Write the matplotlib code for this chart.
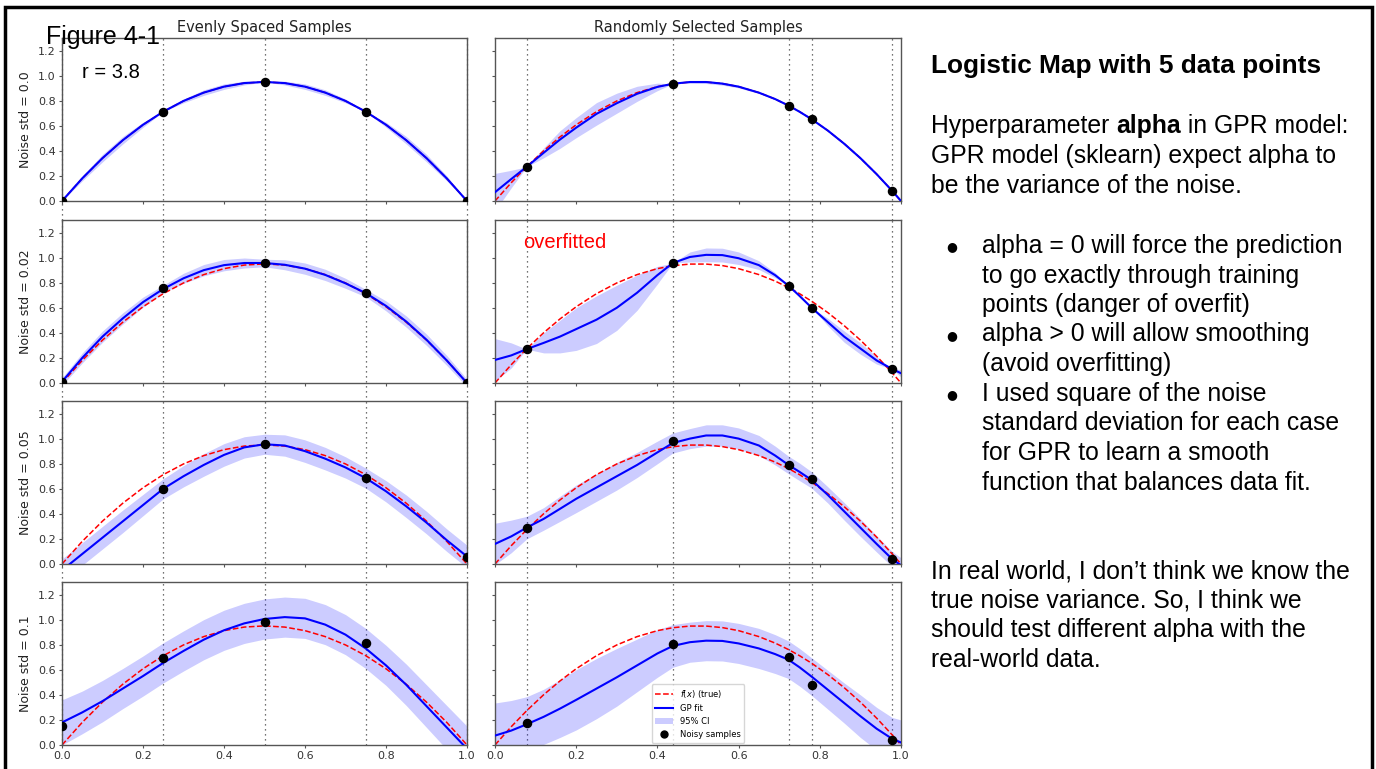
import matplotlib
matplotlib.use('Agg')
import matplotlib.pyplot as plt
import numpy as np
from matplotlib.lines import Line2D
from matplotlib.patches import Patch, Rectangle

# ---- data ----
x_even = [0.0, 0.05, 0.1, 0.15, 0.2, 0.25, 0.3, 0.35, 0.4, 0.45, 0.5,
          0.55, 0.6, 0.65, 0.7, 0.75, 0.8, 0.85, 0.9, 0.95, 1.0]
x_rand = [0.0, 0.04, 0.078, 0.12, 0.16, 0.2, 0.25, 0.3, 0.35, 0.4, 0.438, 0.48, 0.52,
          0.56, 0.6, 0.65, 0.69, 0.723, 0.75, 0.78, 0.82, 0.86, 0.9, 0.94, 0.978, 1.0]

true_even = [0.0, 0.1805, 0.342, 0.4845, 0.608, 0.7125, 0.798, 0.8645, 0.912, 0.9405, 0.95,
             0.9405, 0.912, 0.8645, 0.798, 0.7125, 0.608, 0.4845, 0.342, 0.1805, 0.0]
true_rand = [0.0, 0.1459, 0.2733, 0.4013, 0.5107, 0.608, 0.7125, 0.798, 0.8645, 0.912, 0.9354,
             0.9485, 0.9485, 0.9363, 0.912, 0.8645, 0.8128, 0.761, 0.7125, 0.6521, 0.5609,
             0.4575, 0.342, 0.2143, 0.0818, 0.0]

sx_even = [0.0, 0.25, 0.5, 0.75, 1.0]
sx_rand = [0.078, 0.438, 0.723, 0.78, 0.978]
noise_labels = ['0.0', '0.02', '0.05', '0.1']

# evenly spaced samples
sy_even_0 = [0.0, 0.7125, 0.95, 0.7125, 0.0]
mean_even_0 = true_even
ci_even_0 = [0, .02, .03, .03, .02, 0, .015, .022, .022, .015, 0,
             .015, .022, .022, .015, 0, .02, .03, .03, .02, 0]

sy_even_1 = [0.01, 0.754, 0.957, 0.717, 0.0]
mean_even_1 = [0.01, 0.2, 0.37, 0.515, 0.645, 0.75, 0.835, 0.9, 0.94, 0.957, 0.957,
               0.943, 0.912, 0.862, 0.795, 0.717, 0.615, 0.49, 0.345, 0.18, 0.0]
ci_even_1 = [.03, .04, .045, .045, .04, .03, .04, .045, .045, .04, .03,
             .04, .045, .045, .04, .03, .04, .045, .045, .04, .03]

sy_even_2 = [-0.06, 0.598, 0.958, 0.686, 0.058]
mean_even_2 = [-0.05, 0.08, 0.21, 0.34, 0.47, 0.6, 0.70, 0.79, 0.87, 0.93, 0.955,
               0.945, 0.90, 0.84, 0.77, 0.685, 0.58, 0.46, 0.33, 0.19, 0.06]
ci_even_2 = [.09, .09, .09, .09, .085, .08, .085, .09, .09, .085, .08,
             .085, .09, .09, .085, .08, .085, .09, .09, .09, .09]

sy_even_3 = [0.155, 0.69, 0.979, 0.813, -0.08]
mean_even_3 = [0.18, 0.26, 0.35, 0.45, 0.55, 0.655, 0.75, 0.84, 0.915, 0.97, 1.005,
               1.02, 1.01, 0.96, 0.88, 0.77, 0.635, 0.48, 0.31, 0.14, -0.03]
ci_even_3 = [.18, .17, .165, .16, .16, .16, .16, .16, .16, .16, .16,
             .16, .16, .16, .16, .16, .16, .165, .17, .175, .18]

# randomly selected samples
sy_rand_0 = [0.2733, 0.9354, 0.761, 0.6521, 0.0818]
mean_rand_0 = [0.07, 0.175, 0.273, 0.385, 0.49, 0.585, 0.695, 0.78, 0.855, 0.91, 0.935,
               0.949, 0.949, 0.936, 0.912, 0.864, 0.813, 0.761, 0.712, 0.652, 0.561,
               0.457, 0.342, 0.214, 0.082, 0.0]
ci_rand_0 = [.15, .07, 0, .04, .07, .08, .09, .08, .06, .03, 0, .01, .012,
             .012, .01, .006, .003, 0, .002, 0, .004, .006, .006, .004, 0, .01]

sy_rand_1 = [0.27, 0.957, 0.776, 0.60, 0.112]
mean_rand_1 = [0.184, 0.22, 0.27, 0.32, 0.37, 0.43, 0.505, 0.60, 0.72, 0.86, 0.957,
               1.005, 1.022, 1.02, 0.995, 0.94, 0.86, 0.776, 0.695, 0.60, 0.485,
               0.37, 0.275, 0.18, 0.112, 0.078]
ci_rand_1 = [.17, .1, 0, .08, .13, .17, .19, .18, .14, .07, 0, .04, .055,
             .055, .05, .035, .02, 0, .01, 0, .03, .045, .045, .03, 0, .03]

sy_rand_2 = [0.29, 0.979, 0.787, 0.677, 0.037]
mean_rand_2 = [0.16, 0.22, 0.29, 0.36, 0.44, 0.52, 0.61, 0.70, 0.79, 0.89, 0.965,
               1.0, 1.025, 1.025, 1.0, 0.945, 0.865, 0.79, 0.735, 0.67, 0.55,
               0.42, 0.29, 0.16, 0.04, -0.01]
ci_rand_2 = [.165, .13, .09, .09, .1, .11, .11, .11, .1, .09, .08, .08, .085,
             .085, .085, .08, .075, .07, .07, .065, .065, .07, .07, .065, .06, .06]

sy_rand_3 = [0.173, 0.808, 0.699, 0.477, 0.04]
mean_rand_3 = [0.075, 0.115, 0.165, 0.225, 0.29, 0.36, 0.45, 0.54, 0.635, 0.73, 0.79,
               0.82, 0.832, 0.83, 0.81, 0.77, 0.725, 0.68, 0.62, 0.545, 0.44,
               0.335, 0.23, 0.13, 0.05, 0.02]
ci_rand_3 = [.26, .24, .22, .22, .23, .24, .24, .23, .21, .19, .17, .16, .16,
             .16, .16, .16, .155, .15, .15, .15, .155, .16, .17, .17, .17, .18]

even_panels = [(sy_even_0, mean_even_0, ci_even_0), (sy_even_1, mean_even_1, ci_even_1),
               (sy_even_2, mean_even_2, ci_even_2), (sy_even_3, mean_even_3, ci_even_3)]
rand_panels = [(sy_rand_0, mean_rand_0, ci_rand_0), (sy_rand_1, mean_rand_1, ci_rand_1),
               (sy_rand_2, mean_rand_2, ci_rand_2), (sy_rand_3, mean_rand_3, ci_rand_3)]

W, H = 1376, 769
fig = plt.figure(figsize=(W / 100, H / 100), dpi=100)

col_left = [62, 495]
col_w = [405, 406]
row_bottom = [201, 383, 564, 745]
ax_h = 163
gap = 19

spine_col = '#555555'
tick_col = '#333333'

def draw_panel(ax, xg, truth, sx, sy, mean, ci):
    xg = np.array(xg)
    mean = np.array(mean)
    ci = np.array(ci)
    ax.fill_between(xg, mean - ci, mean + ci, color='blue', alpha=0.2, lw=0, zorder=1)
    ax.plot(xg, truth, color='red', ls='--', lw=1.1, zorder=2)
    ax.plot(xg, mean, color='blue', lw=1.5, zorder=3)
    ax.scatter(sx, sy, s=34, color='black', zorder=4)

axes = []
for r in range(4):
    for c in range(2):
        left = col_left[c] / W
        bottom = 1 - row_bottom[r] / H
        ax = fig.add_axes([left, bottom, col_w[c] / W, ax_h / H])
        ax.set_xlim(0, 1)
        ax.set_ylim(0, 1.3)
        ax.set_xticks([0, 0.2, 0.4, 0.6, 0.8, 1.0])
        ax.set_yticks([0, 0.2, 0.4, 0.6, 0.8, 1.0, 1.2])
        ax.tick_params(labelsize=8, length=2.5, width=0.8, colors=spine_col,
                       labelcolor=tick_col, pad=2)
        for s in ax.spines.values():
            s.set_color(spine_col)
            s.set_linewidth(1.0)
        if c == 0:
            xg, truth, sx = x_even, true_even, sx_even
            sy, mean, ci = even_panels[r]
            ax.set_ylabel('Noise std = ' + noise_labels[r], fontsize=9, color='#222222', labelpad=4)
        else:
            xg, truth, sx = x_rand, true_rand, sx_rand
            sy, mean, ci = rand_panels[r]
            ax.set_yticklabels([])
        if r < 3:
            ax.set_xticklabels([])
        draw_panel(ax, xg, truth, sx, sy, mean, ci)
        ymin = 0 if r == 3 else -gap / ax_h
        for xv in sx:
            ax.axvline(xv, ymin=ymin, ymax=1, color='#444444', ls=(0, (1, 3)), lw=0.9,
                       clip_on=False, zorder=0.5)
        axes.append(ax)

axes[0].set_title('Evenly Spaced Samples', fontsize=10.5, color='#222222', pad=4)
axes[1].set_title('Randomly Selected Samples', fontsize=10.5, color='#222222', pad=4)

handles = [Line2D([], [], color='red', ls='--', lw=1.1),
           Line2D([], [], color='blue', lw=1.5),
           Patch(facecolor='blue', alpha=0.2, lw=0),
           Line2D([], [], color='black', marker='o', ls='none', markersize=5)]
axes[7].legend(handles, ['$f(x)$ (true)', 'GP fit', '95% CI', 'Noisy samples'],
               loc='lower center', fontsize=6, handlelength=2.2, borderaxespad=0.3)

# slide annotations
sans = ['Liberation Sans', 'DejaVu Sans']
fig.text(46 / W, 1 - 44 / H, 'Figure 4-1', fontsize=18, family=sans, va='baseline', zorder=10)
fig.text(82 / W, 1 - 78 / H, 'r = 3.8', fontsize=14.5, family=sans, va='baseline', zorder=10)
fig.text(523 / W, 1 - 248 / H, 'overfitted', fontsize=14.5, family=sans, color='red',
         va='baseline', zorder=10)

tx = 931 / W
body = 17.8
fig.text(tx, 1 - 73 / H, 'Logistic Map with 5 data points', fontsize=18.9, family=sans,
         weight='bold', va='baseline')

renderer = fig.canvas.get_renderer()
t1 = fig.text(tx, 1 - 133 / H, 'Hyperparameter ', fontsize=body, family=sans, va='baseline')
w1 = t1.get_window_extent(renderer).width
t2 = fig.text(tx + w1 / W, 1 - 133 / H, 'alpha', fontsize=body, family=sans,
              weight='bold', va='baseline')
w2 = t2.get_window_extent(renderer).width
fig.text(tx + (w1 + w2) / W, 1 - 133 / H, ' in GPR model:', fontsize=body, family=sans,
         va='baseline')
fig.text(tx, 1 - 163 / H, 'GPR model (sklearn) expect alpha to', fontsize=body, family=sans,
         va='baseline')
fig.text(tx, 1 - 193 / H, 'be the variance of the noise.', fontsize=body, family=sans,
         va='baseline')

bullet_lines = [(253, True, 'alpha = 0 will force the prediction'),
                (282.5, False, 'to go exactly through training'),
                (312, False, 'points (danger of overfit)'),
                (341.5, True, 'alpha > 0 will allow smoothing'),
                (371, False, '(avoid overfitting)'),
                (401, True, 'I used square of the noise'),
                (430.5, False, 'standard deviation for each case'),
                (460, False, 'for GPR to learn a smooth'),
                (489.5, False, 'function that balances data fit.')]
for yb, has_dot, txt in bullet_lines:
    if has_dot:
        fig.text(952 / W, 1 - (yb - 6) / H, '\u25cf', fontsize=9, family='DejaVu Sans',
                 ha='center', va='center')
    fig.text(982 / W, 1 - yb / H, txt, fontsize=body, family=sans, va='baseline')

para = ['In real world, I don\u2019t think we know the',
        'true noise variance. So, I think we',
        'should test different alpha with the',
        'real-world data.']
for i, txt in enumerate(para):
    fig.text(tx, 1 - (578 + 29.7 * i) / H, txt, fontsize=body, family=sans, va='baseline')

# slide frame
fig.add_artist(Rectangle((5 / W, -0.05), 1367 / W, 1.05 - 7 / H, transform=fig.transFigure,
                         fill=False, edgecolor='black', lw=2.5))

fig.savefig('out.png', dpi=100)
